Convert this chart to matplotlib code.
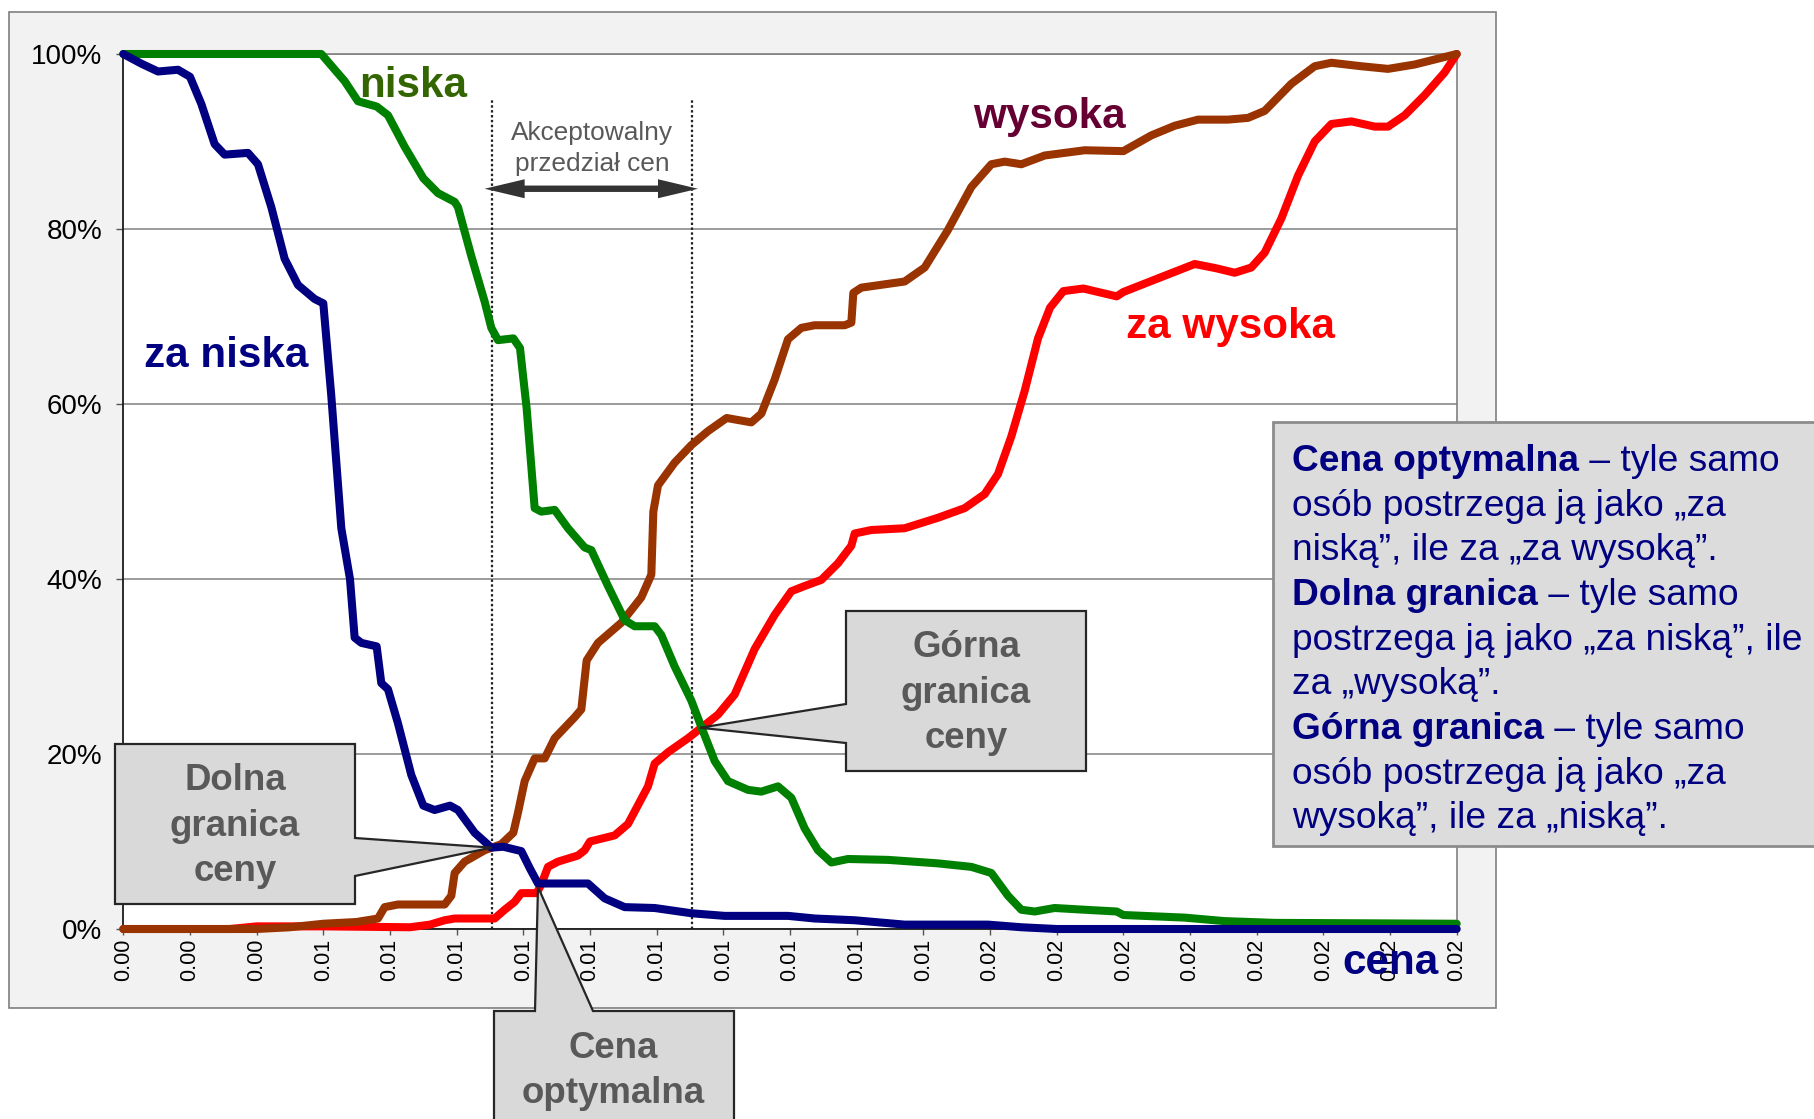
import matplotlib
matplotlib.use('Agg')
import matplotlib.pyplot as plt
from matplotlib.patches import Polygon, Rectangle

plt.rcParams['font.family'] = ['Liberation Sans', 'DejaVu Sans']

W, H = 1814, 1119

# --- dane ---
x_labels = ['0.00'] * 3 + ['0.01'] * 10 + ['0.02'] * 8
y_ticks = [0, 20, 40, 60, 80, 100]

za_niska_x = [0, 0.27, 0.52, 0.82, 1.0, 1.17, 1.37, 1.52, 1.87, 2.02, 2.22, 2.42, 2.62, 2.87, 3.0,
              3.12, 3.27, 3.4, 3.47, 3.57, 3.8, 3.87, 3.97, 4.12, 4.32, 4.5, 4.67, 4.9, 5.02, 5.27,
              5.52, 5.7, 5.97, 6.1, 6.22, 6.5, 6.97, 7.22, 7.52, 7.97, 8.52, 9.02, 9.97, 10.37,
              10.97, 11.72, 12.47, 12.97, 13.47, 14.0, 20]
za_niska_y = [100, 98.9, 98.0, 98.2, 97.4, 94.3, 89.7, 88.5, 88.7, 87.4, 82.5, 76.6, 73.6, 72.0, 71.5,
              60.9, 45.8, 40.0, 33.3, 32.7, 32.3, 28.1, 27.4, 23.5, 17.6, 14.1, 13.6, 14.1, 13.6, 11.0,
              9.3, 9.4, 8.9, 6.9, 5.2, 5.2, 5.2, 3.5, 2.5, 2.4, 1.8, 1.5, 1.5, 1.2,
              1.0, 0.5, 0.5, 0.5, 0.2, 0, 0]

niska_x = [0, 2.97, 3.32, 3.52, 3.8, 3.97, 4.22, 4.5, 4.72, 4.97, 5.02, 5.22, 5.42, 5.52, 5.62, 5.85,
           5.95, 6.05, 6.17, 6.27, 6.47, 6.67, 6.92, 7.02, 7.27, 7.52, 7.67, 7.97, 8.07, 8.27, 8.52,
           8.67, 8.87, 9.07, 9.37, 9.57, 9.82, 10.02, 10.22, 10.42, 10.62, 10.87, 11.47, 12.22,
           12.72, 13.02, 13.27, 13.47, 13.67, 13.97, 14.42, 14.9, 15.0, 15.92, 16.52, 17.27, 20]
niska_y = [100, 100, 96.9, 94.6, 94.0, 93.0, 89.4, 85.8, 84.1, 83.1, 82.5, 76.9, 71.7, 68.7, 67.3, 67.5,
           66.4, 59.5, 48.1, 47.7, 47.9, 45.8, 43.6, 43.3, 39.2, 35.3, 34.6, 34.6, 33.6, 30.0, 26.1,
           23.1, 19.2, 16.9, 15.9, 15.7, 16.3, 15.0, 11.5, 9.0, 7.6, 8.0, 7.9, 7.5,
           7.1, 6.4, 3.8, 2.2, 2.0, 2.4, 2.2, 2.0, 1.6, 1.3, 0.9, 0.7, 0.6]

wysoka_x = [0, 2.0, 2.5, 3.0, 3.5, 3.82, 3.92, 4.12, 4.82, 4.92, 4.97, 5.12, 5.42, 5.67, 5.85, 5.92,
            6.02, 6.17, 6.32, 6.47, 6.77, 6.87, 6.95, 7.12, 7.47, 7.77, 7.92, 7.95, 8.02, 8.27, 8.52,
            8.77, 9.05, 9.42, 9.57, 9.77, 9.97, 10.17, 10.37, 10.82, 10.92, 10.95, 11.07, 11.72,
            12.02, 12.37, 12.72, 13.02, 13.22, 13.47, 13.82, 14.42, 15.0, 15.42, 15.77, 16.12,
            16.57, 16.87, 17.12, 17.52, 17.87, 18.12, 18.57, 18.97, 19.37, 20]
wysoka_y = [0, 0, 0.2, 0.6, 0.8, 1.2, 2.5, 2.8, 2.8, 3.8, 6.4, 7.7, 9.0, 9.7, 11.0, 13.3,
            16.9, 19.5, 19.5, 21.8, 24.2, 25.1, 30.7, 32.7, 35.0, 37.9, 40.5, 47.7, 50.7, 53.3, 55.3,
            56.9, 58.4, 57.9, 58.9, 62.8, 67.4, 68.7, 69.0, 69.0, 69.3, 72.7, 73.3, 74.0,
            75.6, 79.9, 84.8, 87.4, 87.7, 87.4, 88.4, 89.0, 88.9, 90.7, 91.8, 92.5,
            92.5, 92.7, 93.5, 96.6, 98.6, 99.0, 98.6, 98.3, 98.8, 100]

za_wysoka_x = [0, 1.6, 2.0, 3.0, 4.3, 4.6, 4.82, 4.97, 5.57, 5.72, 5.87, 5.97, 6.2, 6.27, 6.37, 6.52,
               6.82, 6.92, 7.0, 7.37, 7.57, 7.87, 7.97, 8.17, 8.47, 8.67, 8.92, 9.17, 9.47, 9.77,
               10.02, 10.22, 10.47, 10.72, 10.92, 10.97, 11.22, 11.72, 12.22, 12.62, 12.92, 13.12,
               13.32, 13.52, 13.72, 13.9, 14.1, 14.4, 14.9, 15.0, 15.5, 16.07, 16.4, 16.67, 16.92,
               17.12, 17.37, 17.62, 17.87, 18.12, 18.42, 18.77, 18.97, 19.22, 19.52, 19.82, 20]
za_wysoka_y = [0, 0, 0.3, 0.3, 0.2, 0.5, 1.0, 1.2, 1.2, 2.2, 3.1, 4.1, 4.1, 5.1, 7.1, 7.7,
               8.4, 9.0, 10.0, 10.7, 12.0, 16.3, 18.9, 20.2, 21.8, 23.0, 24.5, 26.8, 32.0, 35.9,
               38.6, 39.2, 39.9, 41.8, 43.8, 45.2, 45.6, 45.8, 47.0, 48.1, 49.7, 52.0,
               56.3, 61.5, 67.5, 71.0, 72.9, 73.2, 72.3, 72.8, 74.3, 76.0, 75.5, 75.0, 75.6,
               77.3, 81.2, 86.1, 90.0, 92.0, 92.3, 91.7, 91.7, 93.0, 95.3, 97.9, 100]

granica_dolna = (5.525, 9.3)
granica_gorna = (8.65, 23.0)
cena_opt = (6.22, 4.8)
przedzial = (5.525, 8.525)


def fp(x, y):
    # piksele obrazka -> ulamki figury
    return (x / W, 1 - y / H)


fig = plt.figure(figsize=(W / 100, H / 100), dpi=100)
fig.patch.set_facecolor('white')

# tlo obszaru wykresu
fig.add_artist(Rectangle(fp(9, 1008), (1496 - 9) / W, (1008 - 12) / H, transform=fig.transFigure,
                         facecolor='#f2f2f2', edgecolor='#7f7f7f', lw=1.2, zorder=-5))

ax = fig.add_axes([123.3 / W, 1 - 929 / H, 1333.4 / W, 875 / H])
ax.set_facecolor('white')
ax.set_xlim(0, 20)
ax.set_ylim(0, 100)

ax.set_xticks(range(len(x_labels)))
ax.set_xticklabels(x_labels, rotation=90, fontsize=15.5)
ax.set_yticks(y_ticks)
ax.set_yticklabels([f'{v}%' for v in y_ticks], fontsize=20)
ax.tick_params(axis='y', length=5, width=1, color='#555555', pad=10)
ax.tick_params(axis='x', length=4, width=1, color='#555555', pad=3)
ax.yaxis.grid(True, color='#808080', lw=1.1)
ax.set_axisbelow(True)
for s in ['left', 'bottom']:
    ax.spines[s].set_color('#1a1a1a')
    ax.spines[s].set_linewidth(1.3)
for s in ['top', 'right']:
    ax.spines[s].set_color('#808080')
    ax.spines[s].set_linewidth(1.2)

# linie pomocnicze przedzialu
for xv in przedzial:
    ax.plot([xv, xv], [0, 94.7], color='#222222', lw=1.6, linestyle=(0, (1.1, 1.1)), zorder=2)

lw = 5.8
styl = dict(lw=lw, clip_on=False, solid_joinstyle='round', solid_capstyle='round')
ax.plot(za_wysoka_x, za_wysoka_y, color='#ff0000', zorder=3, **styl)
ax.plot(wysoka_x, wysoka_y, color='#993300', zorder=4, **styl)
ax.plot(niska_x, niska_y, color='#008000', zorder=5, **styl)
ax.plot(za_niska_x, za_niska_y, color='#000080', zorder=6, **styl)

lab = dict(fontsize=30.4, weight='bold', ha='center', va='baseline', clip_on=False, zorder=7)
ax.text(4.35, 95.1, 'niska', color='#336600', **lab)
ax.text(1.55, 64.2, 'za niska', color='#000080', **lab)
ax.text(13.89, 91.5, 'wysoka', color='#660033', **lab)
ax.text(16.6, 67.5, 'za wysoka', color='#ff0000', **lab)
ax.text(19.0, -5.1, 'cena', color='#000080', **lab)

ax.text(7.03, 90.2, 'Akceptowalny', fontsize=18.9, color='#595959', ha='center', va='baseline')
ax.text(7.03, 86.6, 'przedział cen', fontsize=18.9, color='#595959', ha='center', va='baseline')


def px(t, v):
    p = ax.transData.transform((t, v))
    return (p[0], H - p[1])


# strzalka dwustronna
xa, ya = px(5.42, 84.6)
xb, _ = px(8.62, 84.6)
hl, hw, sw = 40, 9.5, 3.2
arrow = [(xa, ya), (xa + hl, ya - hw), (xa + hl, ya - sw), (xb - hl, ya - sw), (xb - hl, ya - hw),
         (xb, ya), (xb - hl, ya + hw), (xb - hl, ya + sw), (xa + hl, ya + sw), (xa + hl, ya + hw)]
fig.add_artist(Polygon([fp(*p) for p in arrow], closed=True, transform=fig.transFigure,
                       facecolor='#333333', edgecolor='none', zorder=4))

# objasnienia
box_kw = dict(closed=True, transform=fig.transFigure, facecolor='#d9d9d9',
              edgecolor='#262626', lw=1.6, zorder=8)
txt_kw = dict(fontsize=26.4, weight='bold', color='#595959', ha='center', va='baseline', zorder=9)

L, T, R, B = 115, 744, 355, 904
tip = px(*granica_dolna)
v = [(L, T), (R, T), (R, 838), tip, (R, 876), (R, B), (L, B)]
fig.add_artist(Polygon([fp(*p) for p in v], **box_kw))
for yy, s in zip([790, 836, 881], ['Dolna', 'granica', 'ceny']):
    fig.text(*fp(235, yy), s, **txt_kw)

L, T, R, B = 846, 611, 1086, 771
tip = px(*granica_gorna)
v = [(L, T), (R, T), (R, B), (L, B), (L, 743), tip, (L, 704)]
fig.add_artist(Polygon([fp(*p) for p in v], **box_kw))
for yy, s in zip([657, 703, 748], ['Górna', 'granica', 'ceny']):
    fig.text(*fp(966, yy), s, **txt_kw)

L, T, R, B = 494, 1011, 734, 1140
tip = px(*cena_opt)
v = [(L, T), (535, T), tip, (593, T), (R, T), (R, B), (L, B)]
fig.add_artist(Polygon([fp(*p) for p in v], **box_kw))
for yy, s in zip([1058, 1103], ['Cena', 'optymalna']):
    fig.text(*fp(613, yy), s, **txt_kw)

# ramka z opisem
fig.add_artist(Rectangle(fp(1273, 846), (1840 - 1273) / W, (846 - 422) / H, transform=fig.transFigure,
                         facecolor='#dcdcdc', edgecolor='#8c8c8c', lw=2, zorder=8))
opis = [
    ('Cena optymalna', ' – tyle samo'),
    ('', 'osób postrzega ją jako „za'),
    ('', 'niską”, ile za „za wysoką”.'),
    ('Dolna granica', ' – tyle samo'),
    ('', 'postrzega ją jako „za niską”, ile'),
    ('', 'za „wysoką”.'),
    ('Górna granica', ' – tyle samo'),
    ('', 'osób postrzega ją jako „za'),
    ('', 'wysoką”, ile za „niską”.'),
]
renderer = fig.canvas.get_renderer()
x0 = 1292
for i, (bold, rest) in enumerate(opis):
    yb = 471.3 + 44.6 * i
    xr = x0
    if bold:
        tb = fig.text(*fp(x0, yb), bold, fontsize=26.7, weight='bold', color='#000080',
                      ha='left', va='baseline', zorder=9)
        xr = x0 + tb.get_window_extent(renderer).width
    fig.text(*fp(xr, yb), rest, fontsize=26.7, color='#000080', ha='left', va='baseline', zorder=9)

fig.savefig('out.png', dpi=100)
